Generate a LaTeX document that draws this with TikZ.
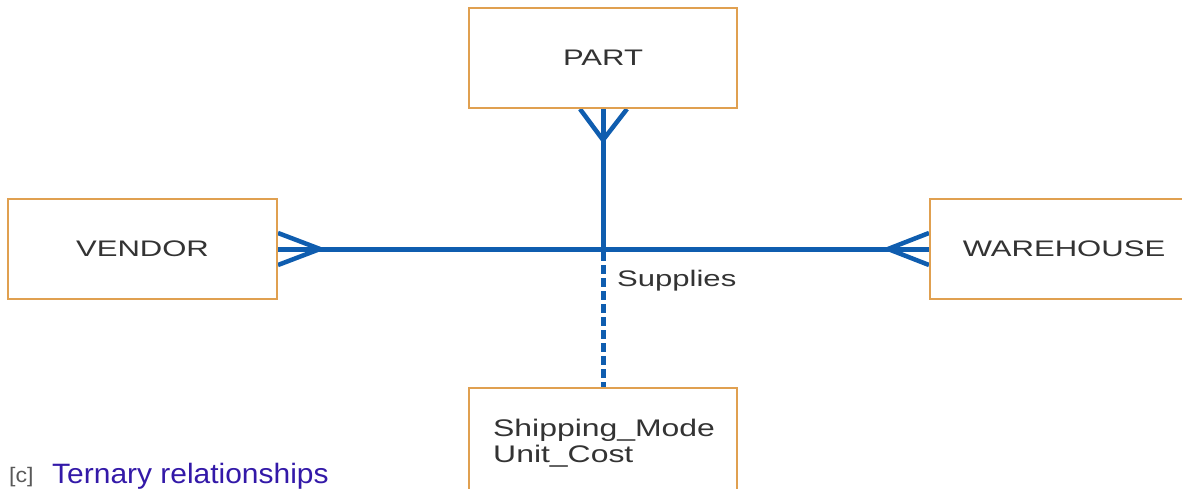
\documentclass[tikz,border=0pt]{standalone}
\usepackage{fontspec}
\setmainfont{Liberation Sans}
\newfontfamily\lblfont[FakeStretch=1.38]{Liberation Sans}
\newfontfamily\attrfont[FakeStretch=1.33]{Liberation Sans}
\newfontfamily\capfont[FakeStretch=1.07]{Liberation Sans}
\newfontfamily\tagfont[FakeStretch=1.1]{Liberation Sans}
\usetikzlibrary{calc,backgrounds}
\definecolor{relblue}{HTML}{0F5DAF}
\definecolor{boxedge}{HTML}{E0A050}
\definecolor{txt}{HTML}{333333}
\definecolor{captxt}{HTML}{3319A8}
\begin{document}
\begin{tikzpicture}[x=1pt,y=-1pt,
  entity/.style={draw=boxedge,line width=2pt,fill=white,minimum width=268pt,minimum height=100pt,inner sep=0pt,text=txt,font=\lblfont\fontsize{22.5}{25}\selectfont},
  relline/.style={draw=relblue,line width=5pt},
  foot/.style={draw=relblue,line width=4.5pt,line join=round},
  plain/.style={inner sep=0pt,text=txt,anchor=base west}]
\useasboundingbox (0,0) rectangle (1182,489);

\node[entity] (part) at (603,58) {PART};
\node[entity,minimum width=269pt] (vendor) at (142.5,249) {VENDOR};
\node[entity,minimum width=256pt] (warehouse) at (1058,249) {};
\node[inner sep=0pt,text=txt,font=\lblfont\fontsize{22.5}{25}\selectfont] (whlabel) at (1064,249) {WAREHOUSE};
\node[entity,minimum height=104pt] (attr) at (603,440) {};
\node[plain,font=\attrfont\fontsize{24}{25}\selectfont] (attr1) at (493,436) {Shipping\_Mode};
\node[plain,font=\attrfont\fontsize{24}{25}\selectfont] (attr2) at (493,462) {Unit\_Cost};
\node[plain,font=\lblfont\fontsize{22.5}{25}\selectfont] (supplies) at (617,286) {Supplies};
\node[plain,font=\tagfont\fontsize{21}{23}\selectfont,text=black!65] (tag) at (9,482) {[c]};
\node[plain,font=\capfont\fontsize{28}{30}\selectfont,text=captxt] (caption) at (52,483) {Ternary relationships};

\begin{scope}[on background layer]
  \coordinate (hub) at (part.south |- vendor.east);
  \coordinate (vfoot) at (320,249);
  \coordinate (wfoot) at (888,249);
  \coordinate (pfoot) at (603,140);
  \coordinate (dstart) at (603,252);
  \draw[relline] (vendor.east) -- (warehouse.west);
  \draw[relline] (part.south) -- (hub);
  \draw[relline,dash pattern=on 9pt off 4pt] (dstart) -- (attr.north);
  \draw[foot] ($(vendor.east)+(0,-16)$) -- (vfoot) -- ($(vendor.east)+(0,16)$);
  \draw[foot] ($(warehouse.west)+(0,-16)$) -- (wfoot) -- ($(warehouse.west)+(0,16)$);
  \draw[foot] ($(part.south)+(-23,0)$) -- (pfoot) -- ($(part.south)+(24,0)$);
\end{scope}
\end{tikzpicture}
\end{document}
